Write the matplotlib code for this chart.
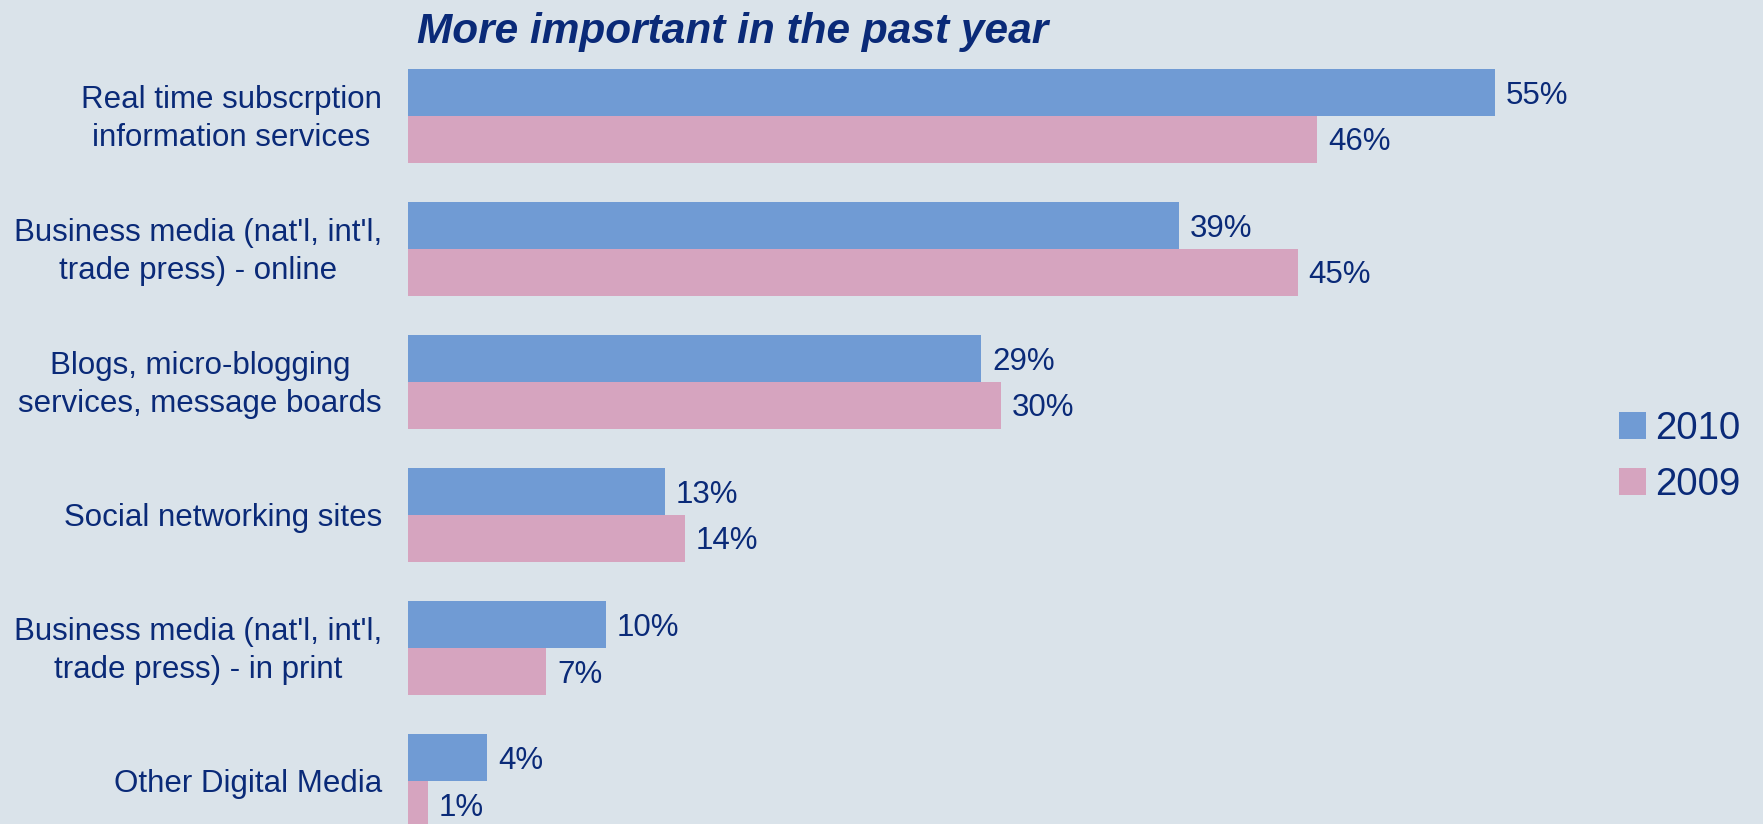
import numpy as np
import matplotlib
matplotlib.use("Agg")
import matplotlib.pyplot as plt

# Survey results: share saying each source became more important
categories = [
    "Real time subscrption\ninformation services",
    "Business media (nat'l, int'l,\ntrade press) - online",
    "Blogs, micro-blogging\nservices, message boards",
    "Social networking sites",
    "Business media (nat'l, int'l,\ntrade press) - in print",
    "Other Digital Media",
]
values_2010 = [55, 39, 29, 13, 10, 4]
values_2009 = [46, 45, 30, 14, 7, 1]
series_labels = ["2010", "2009"]

BG = "#DAE3EA"
NAVY = "#0A2A78"
BLUE = "#709BD4"
PINK = "#D6A4BF"

plt.rcParams["font.family"] = ["Liberation Sans", "DejaVu Sans"]

fig = plt.figure(figsize=(17.63, 8.24), dpi=100, facecolor=BG)
ax = fig.add_axes([408 / 1763, 0, 1186 / 1763, 1])
ax.set_facecolor(BG)

y = np.arange(len(categories))
h = 0.353

bars_2010 = ax.barh(y - h / 2, values_2010, height=h, color=BLUE, label=series_labels[0])
bars_2009 = ax.barh(y + h / 2, values_2009, height=h, color=PINK, label=series_labels[1])

# value labels to the right of each bar
for bars, vals in [(bars_2010, values_2010), (bars_2009, values_2009)]:
    for b, v in zip(bars, vals):
        ax.annotate(f"{v}%", (v, b.get_y() + b.get_height() / 2),
                    xytext=(11, -3), textcoords="offset pixels",
                    ha="left", va="center", fontsize=22.5, color=NAVY)

# category labels, right aligned just left of the bars
for yi, cat in zip(y, categories):
    ax.annotate(cat, (0, yi), xytext=(-26, -3), textcoords="offset pixels",
                ha="right", va="center", multialignment="center",
                fontsize=22.5, color=NAVY, linespacing=1.38,
                annotation_clip=False)

ax.set_xlim(0, 60)
ax.set_ylim(5.323, -0.872)
ax.axis("off")

fig.text(733 / 1763, 1 - 32 / 824, "More important in the past year",
         ha="center", va="center", fontsize=30.5, fontweight="bold",
         fontstyle="italic", color=NAVY)

leg = fig.legend(loc="center left", bbox_to_anchor=(1619 / 1763, 0.4454),
                 frameon=False, fontsize=27.6, handlelength=0.7, handleheight=0.7,
                 handletextpad=0.25, labelspacing=0.53, borderpad=0, borderaxespad=0)
for t in leg.get_texts():
    t.set_color(NAVY)

fig.savefig("out.png", dpi=100, facecolor=BG)
